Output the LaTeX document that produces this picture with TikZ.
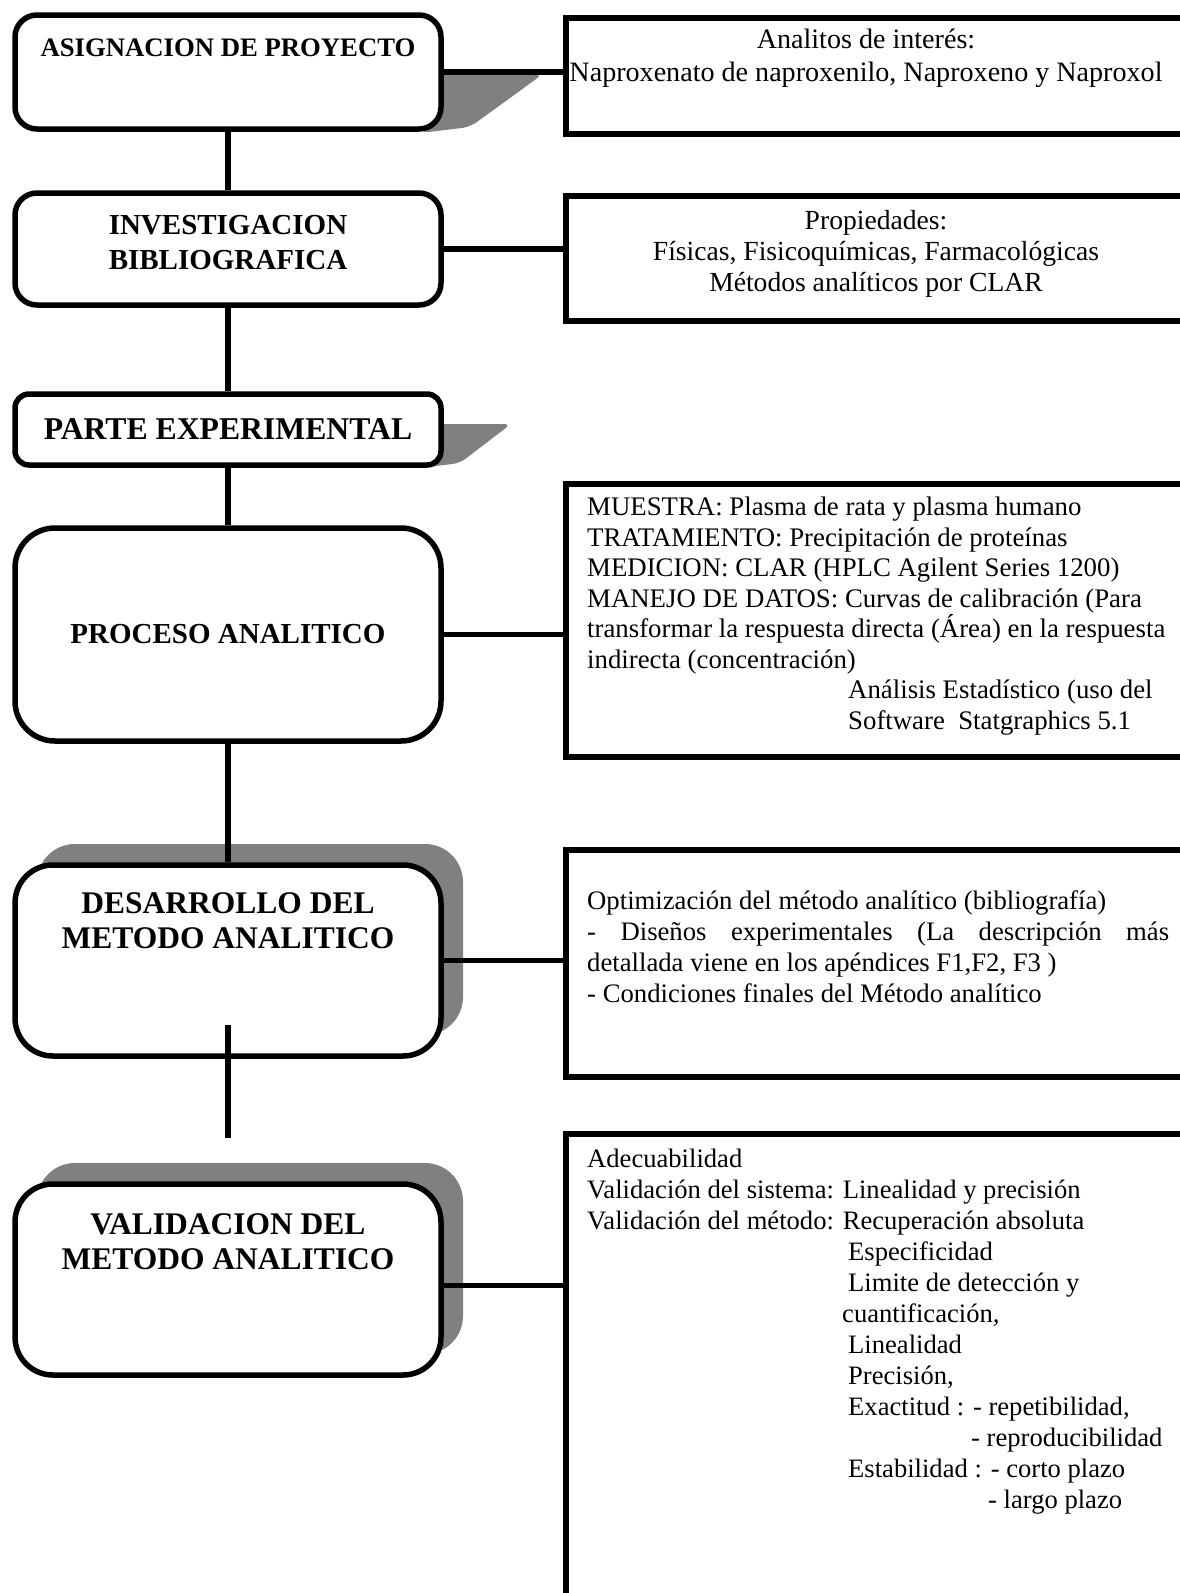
\documentclass[tikz,border=0pt]{standalone}
\usepackage{fontspec}
\setmainfont{Liberation Serif}
\usetikzlibrary{shadows}

\begin{document}
\begin{tikzpicture}[x=1pt,y=-1pt,
    etapa/.style={draw,line width=5.5pt,fill=white,rounded corners=#1,inner sep=0pt,minimum width=426pt},
    caja/.style={draw,line width=5.5pt,fill=white,inner sep=0pt,anchor=north west,minimum width=660pt},
    sombra/.style={drop shadow={shadow xshift=22pt,shadow yshift=21pt,fill=gray,opacity=1}},
    titulo/.style={font=\bfseries\fontsize{#1}{35}\selectfont,align=center,inner sep=0pt},
    texto/.style={font=\fontsize{#1}{31}\selectfont,inner sep=0pt},
    texto/.default=27.3,
    enlace/.style={line width=5.5pt}]
  \useasboundingbox (0,0) rectangle (1179,1593);

  % sombras en perspectiva
  \fill[gray,rounded corners=8pt] (420,74) -- (543,74) -- (470,127) -- (420,133) -- cycle;
  \fill[gray,rounded corners=7pt] (420,424) -- (511,424) -- (460,463) -- (420,468) -- cycle;

  % etapas
  \node[etapa=22pt,minimum height=114pt] (asig) at (228,72) {};
  \node[etapa=22pt,minimum height=112pt] (inv) at (228,249) {};
  \node[etapa=14pt,minimum height=71pt] (exp) at (228,429.5) {};
  \node[etapa=40pt,minimum height=213pt] (proc) at (228,634.5) {};
  \node[etapa=38pt,sombra,minimum height=191pt] (desa) at (228,960.5) {};
  \node[etapa=38pt,sombra,minimum height=191pt] (valid) at (228,1279.5) {};

  % cuadros de la derecha
  \node[caja,minimum height=116pt] (r1) at (563,15) {};
  \node[caja,minimum height=125pt] (r2) at (563,193) {};
  \node[caja,minimum height=273pt] (r3) at (563,481) {};
  \node[caja,minimum height=227pt] (r4) at (563,847) {};
  \node[caja,minimum height=520pt] (r5) at (563,1131) {};

  % uniones verticales
  \draw[enlace] (asig.south) -- (inv.north);
  \draw[enlace] (inv.south) -- (exp.north);
  \draw[enlace] (exp.south) -- (proc.north);
  \draw[enlace] (proc.south) -- (desa.north);
  \coordinate (c1) at (228,1025);
  \coordinate (c2) at (228,1138);
  \draw[enlace] (c1) -- (c2);

  % uniones horizontales
  \coordinate (v6) at ([yshift=-6pt]valid.east);
  \draw[enlace] (asig.east) -- (asig.east -| r1.west);
  \draw[enlace] (inv.east) -- (inv.east -| r2.west);
  \draw[enlace] (proc.east) -- (proc.east -| r3.west);
  \draw[enlace] (desa.east) -- (desa.east -| r4.west);
  \draw[enlace] (v6) -- (v6 -| r5.west);

  % titulos
  \node[titulo=26.7] (tasig) at (228,48) {ASIGNACION DE PROYECTO};
  \node[titulo=29] (tinv) at (228,243) {INVESTIGACION\\BIBLIOGRAFICA};
  \node[titulo=31.7] (texp) at (228,429) {PARTE EXPERIMENTAL};
  \node[titulo=29] (tproc) at (228,634) {PROCESO ANALITICO};
  \node[titulo=31.5] (tdesa) at (228,921) {DESARROLLO DEL\\METODO ANALITICO};
  \node[titulo=31.5] (tvalid) at (228,1242) {VALIDACION DEL\\METODO ANALITICO};

  % textos de la derecha
  \node[texto=28.1,align=center,anchor=north] (t1) at (866,29)
    {Analitos de interés:\\[2pt]Naproxenato de naproxenilo, Naproxeno y Naproxol};
  \node[texto=27.6,align=center,anchor=north] (t2) at (876,210)
    {Propiedades:\\Físicas, Fisicoquímicas, Farmacológicas\\Métodos analíticos por CLAR};
  \node[texto,font=\fontsize{26.8}{30.5}\selectfont,align=left,anchor=north west] (t3) at (587,497)
    {MUESTRA: Plasma de rata y plasma humano\\
     TRATAMIENTO: Precipitación de proteínas\\
     MEDICION: CLAR (HPLC Agilent Series 1200)\\
     MANEJO DE DATOS: Curvas de calibración (Para\\
     transformar la respuesta directa (Área) en la respuesta\\
     indirecta (concentración)\\
     \hspace*{261pt}Análisis Estadístico (uso del\\
     \hspace*{261pt}Software\ \ Statgraphics 5.1};
  \node[texto=26.7,align=left,anchor=north west] (t4) at (587,890)
    {Optimización del método analítico (bibliografía)\\
     \makebox[582pt][s]{- Diseños experimentales (La descripción más}\\
     detallada viene en los apéndices F1,F2, F3 )\\
     - Condiciones finales del Método analítico};
  \node[texto=26.6,align=left,anchor=north west] (t5) at (587,1149)
    {Adecuabilidad\\
     Validación del sistema: Linealidad y precisión\\
     Validación del método: Recuperación absoluta\\
     \hspace*{261pt}Especificidad\\
     \hspace*{261pt}Limite de detección y\\
     \hspace*{255pt}cuantificación,\\
     \hspace*{261pt}Linealidad\\
     \hspace*{261pt}Precisión,\\
     \hspace*{261pt}Exactitud : - repetibilidad,\\
     \hspace*{384pt}- reproducibilidad\\
     \hspace*{261pt}Estabilidad : - corto plazo\\
     \hspace*{401pt}- largo plazo};
\end{tikzpicture}
\end{document}
